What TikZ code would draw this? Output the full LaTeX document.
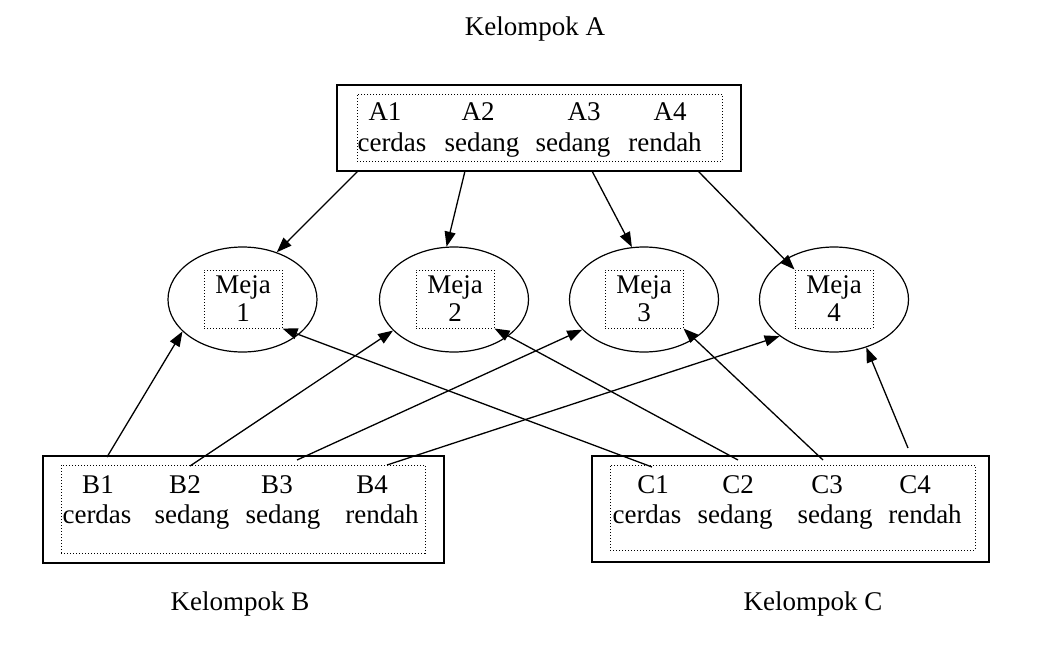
\documentclass[tikz,border=0pt]{standalone}
\usepackage{fontspec}
\setmainfont{Liberation Serif}
\usetikzlibrary{arrows.meta, shapes.geometric}
\tikzset{
    every node/.style={font=\fontsize{13.5}{14}\selectfont},
    grupbox/.style={draw=black, line width=0.8pt, inner sep=0pt},
    isibox/.style={draw=black, densely dotted, line width=0.5pt, inner sep=0pt},
    mejacycle/.style={draw=black, ellipse, line width=0.6pt, inner sep=0pt, minimum width=74.5pt, minimum height=52.5pt},
    mejabox/.style={isibox, minimum width=39pt, minimum height=29pt, align=center},
    kata/.style={anchor=base, inner sep=0pt},
    arrow/.style={-{Triangle[length=7.5pt,width=5.5pt]}, line width=0.65pt},
}

\begin{document}
\begin{tikzpicture}[x=0.5pt, y=-0.5pt]
   \useasboundingbox (0,0) rectangle (1060,659);
% group titles
   \node[kata] (judulA) at (535,35) {Kelompok A};
   \node[kata] (judulB) at (240,610) {Kelompok B};
   \node[kata] (judulC) at (813,610) {Kelompok C};
% group A box at the top
   \node[grupbox, minimum width=202pt, minimum height=43pt] (boxA) at (539,128) {};
   \node[isibox, minimum width=182.5pt, minimum height=33.5pt] (isiA) at (539.5,127.5) {};
   \node[kata] (a1) at (385,120) {A1};
   \node[kata] (a2) at (478,120) {A2};
   \node[kata] (a3) at (584,120) {A3};
   \node[kata] (a4) at (670,120) {A4};
   \node[kata] (ka1) at (392,151) {cerdas};
   \node[kata] (ka2) at (482,151) {sedang};
   \node[kata] (ka3) at (573,151) {sedang};
   \node[kata] (ka4) at (665,151) {rendah};
% group B box bottom left
   \node[grupbox, minimum width=200.5pt, minimum height=53.5pt] (boxB) at (243.5,509.5) {};
   \node[isibox, minimum width=182pt, minimum height=44pt] (isiB) at (243,509) {};
   \node[kata] (b1) at (98,493) {B1};
   \node[kata] (b2) at (185,493) {B2};
   \node[kata] (b3) at (277,493) {B3};
   \node[kata] (b4) at (372,493) {B4};
   \node[kata] (kb1) at (97,523) {cerdas};
   \node[kata] (kb2) at (192,523) {sedang};
   \node[kata] (kb3) at (283,523) {sedang};
   \node[kata] (kb4) at (382,523) {rendah};
% group C box bottom right
   \node[grupbox, minimum width=198.5pt, minimum height=53pt] (boxC) at (790.5,509) {};
   \node[isibox, minimum width=182.5pt, minimum height=42.5pt] (isiC) at (792.5,507.5) {};
   \node[kata] (c1) at (653,493) {C1};
   \node[kata] (c2) at (738,493) {C2};
   \node[kata] (c3) at (827,493) {C3};
   \node[kata] (c4) at (915,493) {C4};
   \node[kata] (kc1) at (647,523) {cerdas};
   \node[kata] (kc2) at (735,523) {sedang};
   \node[kata] (kc3) at (835,523) {sedang};
   \node[kata] (kc4) at (925,523) {rendah};
% the four tables in the middle
   \node[mejacycle] (meja1) at (242.5,299.5) {};
   \node[mejacycle] (meja2) at (454,299.5) {};
   \node[mejacycle] (meja3) at (644,299.5) {};
   \node[mejacycle] (meja4) at (834,299.5) {};
   \node[mejabox] (in1) at (243,299) {Meja\\1};
   \node[mejabox] (in2) at (455,299) {Meja\\2};
   \node[mejabox] (in3) at (644,299) {Meja\\3};
   \node[mejabox] (in4) at (834,299) {Meja\\4};
% where the arrows leave the group boxes
   \coordinate (ta1) at (358,171);
   \coordinate (ta2) at (465,171);
   \coordinate (ta3) at (592,171);
   \coordinate (ta4) at (698,171);
   \coordinate (tb1) at (107,457);
   \coordinate (tb2) at (190,466);
   \coordinate (tb3) at (297,460);
   \coordinate (tb4) at (387,465);
   \coordinate (tc1) at (652,467);
   \coordinate (tc2) at (738,460);
   \coordinate (tc3) at (823,460);
   \coordinate (tc4) at (908,448);
% arrows from group A
   \draw[arrow] (ta1) -- (meja1.54);
   \draw[arrow] (ta2) -- (meja2.98);
   \draw[arrow] (ta3) -- (meja3.103);
   \draw[arrow] (ta4) -- (in4.north west);
% arrows from group B
   \draw[arrow] (tb1) -- (meja1.208);
   \draw[arrow] (tb2) -- (meja2.207);
   \draw[arrow] (tb3) -- (meja3.206);
   \draw[arrow] (tb4) -- (meja4.214);
% arrows from group C
   \draw[arrow] (tc1) -- (in1.south east);
   \draw[arrow] (tc2) -- (in2.south east);
   \draw[arrow] (tc3) -- (in3.south east);
   \draw[arrow] (tc4) -- (meja4.304);
\end{tikzpicture}
\end{document}
